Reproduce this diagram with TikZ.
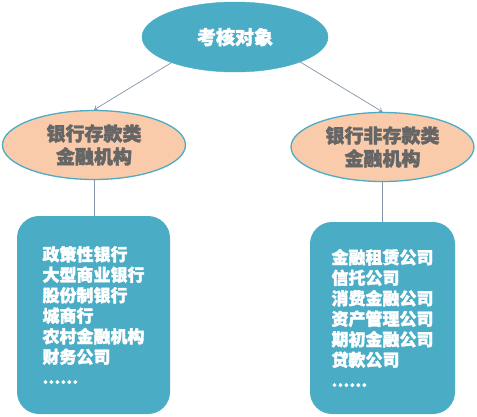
\documentclass[tikz,border=0pt]{standalone}
\usepackage{fontspec}
\newfontfamily\cjk{Noto Sans CJK SC}[BoldFeatures={FakeBold=2}]
\usetikzlibrary{shapes.geometric,arrows.meta}
\definecolor{teal1}{HTML}{4BACC6}
\definecolor{peach}{HTML}{F9CBAA}
\definecolor{txtgrey}{HTML}{666666}
\definecolor{linegrey}{HTML}{8394A8}
\tikzset{
  topell/.style={ellipse, fill=teal1, draw=teal1, minimum width=186pt, minimum height=70pt, inner sep=0pt, text=white, font=\cjk\bfseries\fontsize{19pt}{22pt}\selectfont},
  midell/.style={ellipse, fill=peach, draw=teal1, line width=1.3pt, minimum width=183pt, minimum height=69pt, inner sep=0pt, text=txtgrey, align=center, font=\cjk\bfseries\fontsize{19pt}{23pt}\selectfont},
  listbox/.style={rectangle, rounded corners=22pt, fill=teal1, inner sep=0pt, text=white, align=left, font=\cjk\bfseries\fontsize{17pt}{20.5pt}\selectfont},
  conn/.style={draw=linegrey, line width=0.7pt},
  arr/.style={conn, -{To[length=4pt,width=6pt]}}
}
\begin{document}
\begin{tikzpicture}[x=1pt,y=-1pt]
\useasboundingbox (0,0) rectangle (477,416);
\node[topell] (top) at (235,37) {考核对象};
\node[midell] (l) at (94,145) {银行存款类\\金融机构};
\node[midell] (r) at (382.5,147) {银行非存款类\\金融机构};
\node[listbox, minimum width=153pt, minimum height=198pt] (lb) at (93.5,315) {政策性银行\\大型商业银行\\股份制银行\\城商行\\农村金融机构\\财务公司\\......};
\node[listbox, minimum width=145pt, minimum height=192pt] (rb) at (382.5,318) {金融租赁公司\\信托公司\\消费金融公司\\资产管理公司\\期初金融公司\\贷款公司\\......};
\draw[arr] (top.202) -- (l.north);
\draw[arr] (top.339) -- (r.north);
\draw[conn] (l.south) -- (l.south |- lb.north);
\draw[conn] (r.south) -- (r.south |- rb.north);
\end{tikzpicture}
\end{document}
